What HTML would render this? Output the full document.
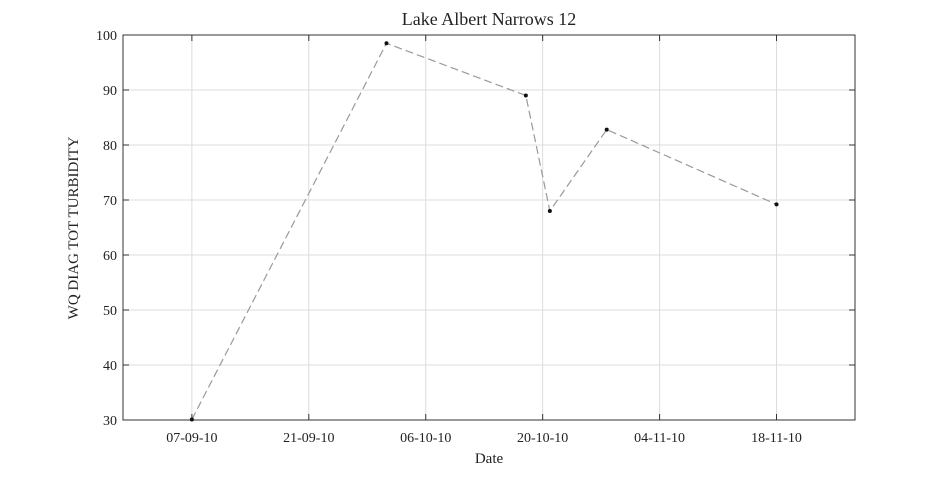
<!DOCTYPE html>
<html><head><meta charset="utf-8"><style>
body{margin:0;background:#fff;}
svg text{font-family:"Liberation Serif",serif;fill:#222;}
</style></head><body>
<svg id="chart" width="945" height="472" xmlns="http://www.w3.org/2000/svg">
<rect width="945" height="472" fill="#fff"/>
<g id="grid"></g>
<g id="axes"></g>
<g id="series"></g>
<text x="489" y="25" font-size="18" text-anchor="middle">Lake Albert Narrows 12</text>
<text x="489" y="463" font-size="15" text-anchor="middle">Date</text>
<text transform="translate(78,228) rotate(-90)" font-size="15" text-anchor="middle">WQ DIAG TOT TURBIDITY</text>
</svg>
<script>
// days since 07-09-10
const dates = [0, 24.3, 41.7, 44.7, 51.8, 73.0];
const values = [30.1, 98.5, 89, 68, 82.8, 69.2];
const xTickDays = [0, 14.6, 29.2, 43.8, 58.4, 73];
const xTickLabels = ["07-09-10","21-09-10","06-10-10","20-10-10","04-11-10","18-11-10"];
const yTicks = [30,40,50,60,70,80,90,100];

const L=123,R=855,T=35,B=420;
const xMin=-8.6,xMax=82.8,yMin=30,yMax=100;
const xs=d=>L+(d-xMin)/(xMax-xMin)*(R-L);
const ys=v=>B-(v-yMin)/(yMax-yMin)*(B-T);
const NS="http://www.w3.org/2000/svg";
function mk(tag,attrs,parent){const e=document.createElementNS(NS,tag);for(const k in attrs)e.setAttribute(k,attrs[k]);parent.appendChild(e);return e;}
const grid=document.getElementById('grid'),axes=document.getElementById('axes'),ser=document.getElementById('series');
yTicks.forEach(v=>{
  const l=mk('line',{x1:L,x2:R,y1:ys(v),y2:ys(v),stroke:'#dcdcdc','stroke-width':1},grid);
  
  
  const t=mk('text',{x:L-6,y:ys(v)+5,'font-size':14,'text-anchor':'end'},axes);
  t.textContent=v;
  
  
  mk('line',{x1:L,x2:L+6,y1:ys(v),y2:ys(v),stroke:'#333'},axes);
  mk('line',{x1:R,x2:R-6,y1:ys(v),y2:ys(v),stroke:'#333'},axes);
});
xTickDays.forEach((d,i)=>{
  const x=xs(d);
  const l=mk('line',{x1:x,x2:x,y1:T,y2:B,stroke:'#dcdcdc','stroke-width':1},grid);
  
  
  const t=mk('text',{x:x,y:B+22,'font-size':14,'text-anchor':'middle'},axes);
  t.textContent=xTickLabels[i];
  
  
  mk('line',{x1:x,x2:x,y1:B,y2:B-6,stroke:'#333'},axes);
  mk('line',{x1:x,x2:x,y1:T,y2:T+6,stroke:'#333'},axes);
});
const frame=mk('rect',{x:L,y:T,width:R-L,height:B-T,fill:'none',stroke:'#333','stroke-width':1},axes);


const pts=dates.map((d,i)=>xs(d)+','+ys(values[i])).join(' ');
const pl=mk('polyline',{points:pts,fill:'none',stroke:'#999','stroke-width':1.2,'stroke-dasharray':'8,4'},ser);


dates.forEach((d,i)=>{
  const c=mk('circle',{cx:xs(d),cy:ys(values[i]),r:2,fill:'#111'},ser);
  
  
});
</script>
</body></html>
